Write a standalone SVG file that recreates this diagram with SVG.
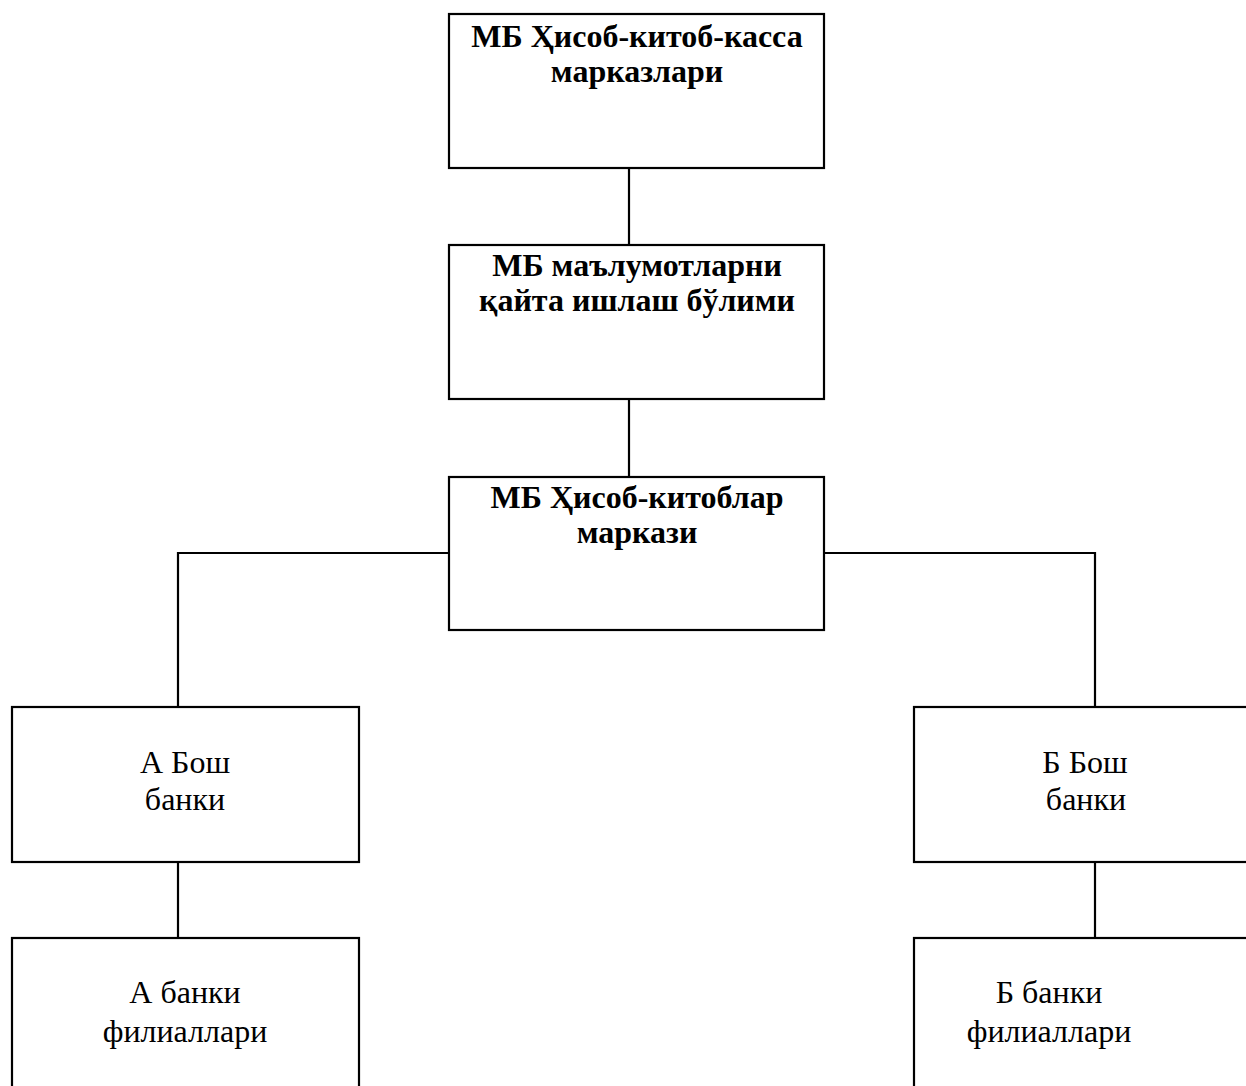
<svg xmlns="http://www.w3.org/2000/svg" width="1246" height="1086" viewBox="0 0 1246 1086">
<style>
.box{fill:#fff;stroke:#000;stroke-width:2.2}
.ln{fill:none;stroke:#000;stroke-width:2.2}
.b{font-family:"Liberation Serif","Times New Roman",serif;font-weight:bold;font-size:32px;text-anchor:middle;fill:#000}
.r{font-family:"Liberation Serif","Times New Roman",serif;font-size:32px;text-anchor:middle;fill:#000}
</style>
<rect width="1246" height="1086" fill="#fff"/>
<g id="connectors">
<path class="ln" d="M629 168V245"/>
<path class="ln" d="M629 399V477"/>
<path class="ln" d="M449 553H178V707"/>
<path class="ln" d="M824 553H1095V707"/>
<path class="ln" d="M178 862V938"/>
<path class="ln" d="M1095 862V938"/>
</g>
<g id="n1">
<rect class="box" x="449" y="14" width="375" height="154"/>
<text class="b" x="637" y="47">МБ Ҳисоб-китоб-касса</text>
<text class="b" x="637" y="82">марказлари</text>
</g>
<g id="n2">
<rect class="box" x="449" y="245" width="375" height="154"/>
<text class="b" x="637" y="276">МБ маълумотларни</text>
<text class="b" x="637" y="311">қайта ишлаш бўлими</text>
</g>
<g id="n3">
<rect class="box" x="449" y="477" width="375" height="153"/>
<text class="b" x="637" y="508">МБ Ҳисоб-китоблар</text>
<text class="b" x="637" y="543">маркази</text>
</g>
<g id="n4">
<rect class="box" x="12" y="707" width="347" height="155"/>
<text class="r" x="185" y="773">А Бош</text>
<text class="r" x="185" y="810">банки</text>
</g>
<g id="n5">
<rect class="box" x="12" y="938" width="347" height="160"/>
<text class="r" x="185" y="1003">А банки</text>
<text class="r" x="185" y="1042">филиаллари</text>
</g>
<g id="n6">
<rect class="box" x="914" y="707" width="340" height="155"/>
<text class="r" x="1085" y="773">Б Бош</text>
<text class="r" x="1086" y="810">банки</text>
</g>
<g id="n7">
<rect class="box" x="914" y="938" width="340" height="160"/>
<text class="r" x="1049" y="1003">Б банки</text>
<text class="r" x="1049" y="1042">филиаллари</text>
</g>
</svg>
